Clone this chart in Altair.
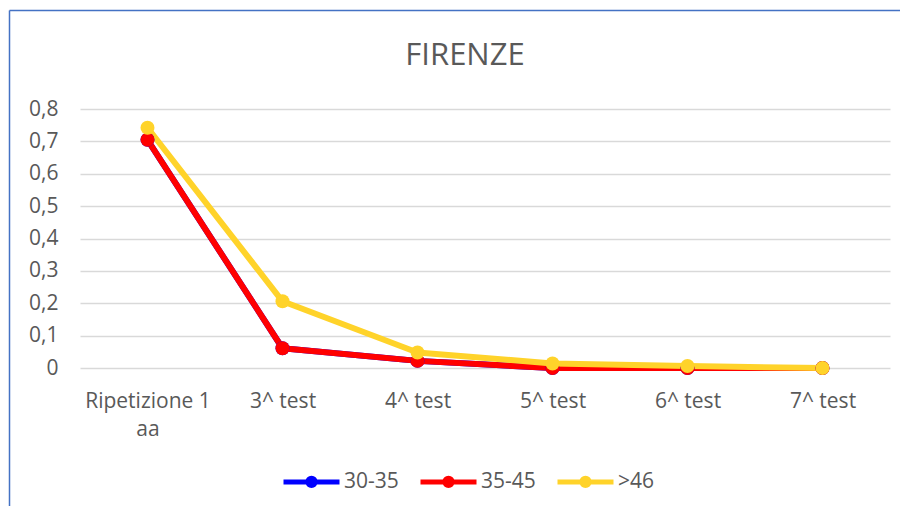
import altair as alt
import pandas as pd

# ---- data ----
categories = ["Ripetizione 1 aa", "3^ test", "4^ test", "5^ test", "6^ test", "7^ test"]
series_names = ["30-35", "35-45", ">46"]
values_30_35 = [0.705, 0.061, 0.022, 0.0, 0.0, 0.0]
values_35_45 = [0.705, 0.061, 0.022, 0.0, 0.0, 0.0]
values_46 = [0.742, 0.206, 0.048, 0.014, 0.006, 0.0]
series_colors = ["#0000FF", "#FF0000", "#FFD32A"]
y_ticks = [0.0, 0.1, 0.2, 0.3, 0.4, 0.5, 0.6, 0.7, 0.8]

rows = []
for name, vals in zip(series_names, [values_30_35, values_35_45, values_46]):
    for cat, val in zip(categories, vals):
        rows.append({"categoria": cat, "serie": name, "valore": val})
df = pd.DataFrame(rows)

FONT = "Open Sans"
TEXT = "#595959"
LABEL_SIZE = 21

legend_symbol = (
    "M-1,0L1,0"
    "M0.132,0A0.132,0.132,0,1,1,-0.132,0A0.132,0.132,0,1,1,0.132,0"
    "M0.03,0A0.03,0.03,0,1,1,-0.03,0A0.03,0.03,0,1,1,0.03,0"
)

x_enc = alt.X(
    "categoria:N",
    sort=categories,
    scale=alt.Scale(type="point", padding=0.5),
    axis=alt.Axis(
        title=None,
        labelAngle=0,
        domain=False,
        ticks=False,
        grid=False,
        labelFont=FONT,
        labelFontSize=LABEL_SIZE,
        labelColor=TEXT,
        labelPadding=22,
        labelLineHeight=28,
        labelExpr="datum.label == 'Ripetizione 1 aa' ? ['Ripetizione 1', 'aa'] : datum.label",
    ),
)
y_enc = alt.Y(
    "valore:Q",
    scale=alt.Scale(domain=[0, 0.8], nice=False, zero=True),
    axis=alt.Axis(
        title=None,
        values=y_ticks,
        domain=False,
        ticks=False,
        gridColor="#D9D9D9",
        gridWidth=1.3,
        labelFont=FONT,
        labelFontSize=LABEL_SIZE,
        labelColor=TEXT,
        labelPadding=22,
        labelExpr="datum.value == 0 ? '0' : replace(format(datum.value, '.1f'), '.', ',')",
    ),
)
color_enc = alt.Color(
    "serie:N",
    scale=alt.Scale(domain=series_names, range=series_colors),
    legend=alt.Legend(
        title=None,
        orient="none",
        legendX=201,
        legendY=342,
        direction="horizontal",
        symbolType=legend_symbol,
        symbolSize=3136,
        symbolStrokeWidth=5,
        symbolFillColor="transparent",
        symbolOpacity=1,
        labelFont=FONT,
        labelFontSize=LABEL_SIZE,
        labelColor=TEXT,
        labelOffset=2,
        columnPadding=11,
        padding=0,
        labelLimit=300,
    ),
)

base = alt.Chart(df).encode(x=x_enc, y=y_enc, color=color_enc)
lines = base.mark_line(strokeWidth=6, strokeCap="round", strokeJoin="round")
points = base.mark_circle(size=195, opacity=1)

frame = alt.Data(values=[{}])
frame_top = alt.Chart(frame).mark_rule(color="#4472C4", strokeWidth=1.5).encode(
    x=alt.value(-70.5), x2=alt.value(830), y=alt.value(-98.5)
)
frame_left = alt.Chart(frame).mark_rule(color="#4472C4", strokeWidth=1.5).encode(
    x=alt.value(-70.5), y=alt.value(-98.5), y2=alt.value(420)
)

chart = (
    alt.layer(lines, points, frame_top, frame_left)
    .properties(
        width=810,
        height=259,
        view=alt.ViewBackground(stroke="transparent", strokeWidth=0),
        autosize=alt.AutoSizeParams(type="none"),
        padding={"left": 72, "top": 101, "right": 10, "bottom": 138},
        title=alt.TitleParams(
            "FIRENZE",
            font=FONT,
            fontSize=31,
            fontWeight="normal",
            color=TEXT,
            anchor="middle",
            dx=-20,
            dy=62,
            offset=0,
        ),
    )
    .configure_view(strokeWidth=0, stroke="transparent")
    .configure(background="white")
)

chart.save("out.html", embed_options={"renderer": "svg", "actions": False})
